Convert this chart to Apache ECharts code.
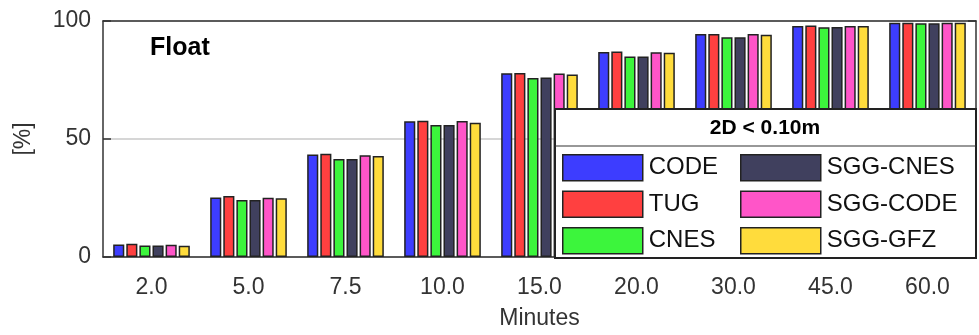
<!DOCTYPE html>
<html>
<head>
<meta charset="utf-8">
<script src="https://cdn.jsdelivr.net/npm/echarts@6/dist/echarts.min.js"></script>
<style>
  html, body { margin: 0; padding: 0; background: #fff; }
  #chart { width: 979px; height: 335px; }
</style>
</head>
<body>
<div id="chart"></div>
<script>
// categories (minutes) and percentage of float solutions below 2D < 0.10m
const minutes = ['2.0', '5.0', '7.5', '10.0', '15.0', '20.0', '30.0', '45.0', '60.0'];
const yTicks = [0, 50, 100];

const codeVals    = [5.3, 25.2, 43.4, 57.5, 77.9, 86.9, 94.5, 97.9, 99.3];
const tugVals     = [5.6, 25.8, 43.7, 57.7, 78.0, 87.1, 94.5, 98.1, 99.3];
const cnesVals    = [4.9, 24.2, 41.5, 55.9, 75.9, 85.0, 93.1, 97.4, 99.0];
const sggCnesVals = [4.9, 24.2, 41.5, 55.9, 76.1, 85.0, 93.1, 97.5, 99.0];
const sggCodeVals = [5.2, 25.1, 43.1, 57.6, 77.8, 86.8, 94.5, 97.9, 99.3];
const sggGfzVals  = [4.8, 24.9, 42.8, 56.9, 77.3, 86.5, 94.2, 97.9, 99.3];

const seriesNames = ['CODE', 'TUG', 'CNES', 'SGG-CNES', 'SGG-CODE', 'SGG-GFZ'];
const seriesData = [codeVals, tugVals, cnesVals, sggCnesVals, sggCodeVals, sggGfzVals];
const colors = ['#3d3dff', '#ff4040', '#3cf53c', '#40405e', '#ff55c8', '#ffdc3c'];

const FONT = "'Liberation Sans', Arial, sans-serif";
const NARROW = "'Liberation Sans Narrow', 'Liberation Sans', Arial, sans-serif";

const chart = echarts.init(document.getElementById('chart'));

const legendCommon = {
    orient: 'vertical',
    top: 154,
    itemWidth: 80,
    itemHeight: 26,
    itemGap: 9,
    padding: 0,
    z: 30,
    icon: 'rect',
    itemStyle: { borderColor: '#222', borderWidth: 1.5 },
    textStyle: { fontFamily: FONT, fontSize: 24, color: '#111', padding: [0, 0, 0, 1] },
    selectedMode: false
};

const axisLineStyle = { color: '#333', width: 1.5 };

chart.setOption({
    animation: false,
    color: colors,
    grid: { left: 103, right: 3, top: 21, bottom: 77, containLabel: false },
    legend: [
        Object.assign({}, legendCommon, { left: 562, data: seriesNames.slice(0, 3) }),
        Object.assign({}, legendCommon, { left: 740, data: seriesNames.slice(3) })
    ],
    xAxis: [{
        type: 'category',
        data: minutes,
        name: 'Minutes',
        nameLocation: 'middle',
        nameGap: 50,
        nameTextStyle: { fontFamily: NARROW, fontSize: 23, color: '#333' },
        axisLine: { onZero: false, lineStyle: axisLineStyle },
        axisTick: { inside: true, alignWithLabel: true, length: 8, lineStyle: axisLineStyle },
        axisLabel: { fontFamily: NARROW, fontSize: 23, color: '#333', margin: 19 }
    }, {
        type: 'category',
        data: minutes,
        position: 'top',
        axisLine: { onZero: false, lineStyle: axisLineStyle },
        axisTick: { inside: true, alignWithLabel: true, length: 8, lineStyle: axisLineStyle },
        axisLabel: { show: false }
    }],
    yAxis: [{
        type: 'value',
        min: 0,
        max: 100,
        interval: 50,
        name: '[%]',
        nameLocation: 'middle',
        nameGap: 68,
        nameRotate: 90,
        nameTextStyle: { fontFamily: NARROW, fontSize: 23, color: '#333' },
        axisLine: { show: true, onZero: false, lineStyle: axisLineStyle },
        axisTick: { show: true, inside: true, length: 8, lineStyle: axisLineStyle },
        axisLabel: {
            fontFamily: NARROW, fontSize: 23, color: '#333', margin: 12,
            formatter: v => (yTicks.includes(v) ? String(v) : '')
        },
        splitLine: { show: true, lineStyle: { color: '#c8c8c8', width: 1.5 } }
    }, {
        type: 'value',
        min: 0,
        max: 100,
        interval: 50,
        position: 'right',
        axisLine: { show: true, onZero: false, lineStyle: axisLineStyle },
        axisTick: { show: true, inside: true, length: 8, lineStyle: axisLineStyle },
        axisLabel: { show: false },
        splitLine: { show: false }
    }],
    graphic: [{
        type: 'text',
        left: 150,
        top: 36,
        z: 5,
        style: { text: 'Float', font: "bold 25px " + FONT, fill: '#000' }
    }, {
        type: 'group',
        z: 20,
        children: [{
            type: 'rect',
            shape: { x: 555, y: 109, width: 421, height: 149 },
            style: { fill: '#fff', stroke: '#222', lineWidth: 2 },
            z: 20
        }, {
            type: 'line',
            shape: { x1: 555, y1: 146, x2: 976, y2: 146 },
            style: { stroke: '#333', lineWidth: 1.2 },
            z: 21
        }, {
            type: 'text',
            x: 765,
            y: 128,
            z: 21,
            style: {
                text: '2D < 0.10m', font: "bold 21px " + FONT, fill: '#000',
                align: 'center', verticalAlign: 'middle'
            }
        }]
    }],
    series: seriesNames.map((name, i) => ({
        name: name,
        type: 'bar',
        data: seriesData[i],
        barGap: '18%',
        barCategoryGap: '21%',
        itemStyle: { color: colors[i], borderColor: '#222', borderWidth: 1.5 }
    }))
});

window.addEventListener('resize', () => {
    chart.resize();
});
</script>
</body>
</html>
